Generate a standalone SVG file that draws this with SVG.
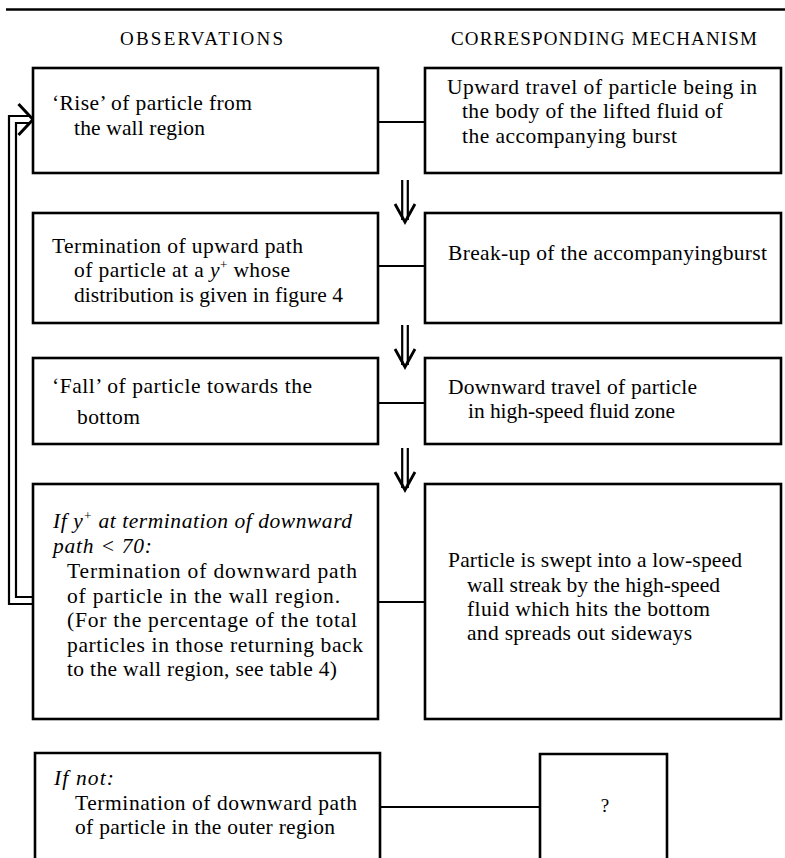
<svg xmlns="http://www.w3.org/2000/svg" width="785" height="858" viewBox="0 0 785 858">
<style>
.box{fill:#fff;stroke:#000;stroke-width:2.6}
.ln{fill:none;stroke:#000;stroke-width:2.2}
.dbl{fill:none;stroke:#000;stroke-width:2.2}
.t{font-family:"Liberation Serif","Times New Roman",serif;font-size:21.5px;fill:#000}
.i{font-style:italic}
.h{font-family:"Liberation Serif","Times New Roman",serif;font-size:19px;fill:#000}
.sup{font-size:13px}
</style>
<defs>
<g id="dn">
<path d="M-2.8,0 V40 M2.8,0 V40" class="dbl"/>
<path d="M-10,24 L0,42 L10,24" fill="none" stroke="#000" stroke-width="2.8" stroke-linejoin="miter"/>
</g>
</defs>
<rect width="785" height="858" fill="#fff"/>
<line x1="6" y1="9.5" x2="785" y2="9.5" stroke="#000" stroke-width="2.6"/>
<text class="h" x="120" y="45" textLength="163" lengthAdjust="spacing">OBSERVATIONS</text>
<text class="h" x="451" y="45" textLength="306" lengthAdjust="spacing">CORRESPONDING MECHANISM</text>

<g id="connectors">
<line class="ln" x1="378" y1="122" x2="425" y2="122"/>
<line class="ln" x1="378" y1="266" x2="425" y2="266"/>
<line class="ln" x1="378" y1="403" x2="425" y2="403"/>
<line class="ln" x1="378" y1="602" x2="425" y2="602"/>
<line class="ln" x1="380" y1="807" x2="540" y2="807"/>
<use href="#dn" x="405" y="180"/>
<use href="#dn" x="405" y="325"/>
<use href="#dn" x="405" y="448"/>
<path class="dbl" d="M33,604 H9 V116 H31"/>
<path class="dbl" d="M33,597 H16 V123 H29"/>
<path d="M18.5,104 L33,119.5 L18.5,135" fill="none" stroke="#000" stroke-width="3"/>
</g>

<g id="obs1">
<rect class="box" x="33" y="68" width="345" height="105"/>
<text class="t" x="52" y="110" textLength="200" lengthAdjust="spacing">‘Rise’ of particle from</text>
<text class="t" x="74" y="135" textLength="131" lengthAdjust="spacing">the wall region</text>
</g>
<g id="mech1">
<rect class="box" x="425" y="68" width="356" height="105"/>
<text class="t" x="447" y="94" textLength="310" lengthAdjust="spacing">Upward travel of particle being in</text>
<text class="t" x="462" y="118" textLength="261" lengthAdjust="spacing">the body of the lifted fluid of</text>
<text class="t" x="462" y="143" textLength="215" lengthAdjust="spacing">the accompanying burst</text>
</g>

<g id="obs2">
<rect class="box" x="33" y="213" width="345" height="110"/>
<text class="t" x="52" y="253" textLength="251" lengthAdjust="spacing">Termination of upward path</text>
<text class="t" x="74" y="277" textLength="216" lengthAdjust="spacing">of particle at a <tspan class="i">y</tspan><tspan class="sup" dy="-8">+</tspan><tspan dy="8"> whose</tspan></text>
<text class="t" x="74" y="302" textLength="269" lengthAdjust="spacing">distribution is given in figure 4</text>
</g>
<g id="mech2">
<rect class="box" x="425" y="213" width="356" height="110"/>
<text class="t" x="448" y="260" textLength="319" lengthAdjust="spacing">Break-up of the accompanyingburst</text>
</g>

<g id="obs3">
<rect class="box" x="33" y="358" width="345" height="86"/>
<text class="t" x="52" y="393" textLength="260" lengthAdjust="spacing">‘Fall’ of particle towards the</text>
<text class="t" x="77" y="424" textLength="63" lengthAdjust="spacing">bottom</text>
</g>
<g id="mech3">
<rect class="box" x="425" y="358" width="356" height="86"/>
<text class="t" x="448" y="394" textLength="249" lengthAdjust="spacing">Downward travel of particle</text>
<text class="t" x="468" y="418" textLength="207" lengthAdjust="spacing">in high-speed fluid zone</text>
</g>

<g id="obs4">
<rect class="box" x="33" y="484" width="345" height="235"/>
<text class="t i" x="53" y="528" textLength="299" lengthAdjust="spacing">If y<tspan class="sup" dy="-8">+</tspan><tspan dy="8"> at termination of downward</tspan></text>
<text class="t i" x="53" y="553" textLength="99" lengthAdjust="spacing">path &lt; 70:</text>
<text class="t" x="67" y="578" textLength="290" lengthAdjust="spacing">Termination of downward path</text>
<text class="t" x="67" y="603" textLength="273" lengthAdjust="spacing">of particle in the wall region.</text>
<text class="t" x="67" y="627" textLength="290" lengthAdjust="spacing">(For the percentage of the total</text>
<text class="t" x="67" y="652" textLength="296" lengthAdjust="spacing">particles in those returning back</text>
<text class="t" x="67" y="676" textLength="270" lengthAdjust="spacing">to the wall region, see table 4)</text>
</g>
<g id="mech4">
<rect class="box" x="425" y="484" width="356" height="235"/>
<text class="t" x="448" y="567" textLength="294" lengthAdjust="spacing">Particle is swept into a low-speed</text>
<text class="t" x="467" y="592" textLength="253" lengthAdjust="spacing">wall streak by the high-speed</text>
<text class="t" x="467" y="616" textLength="243" lengthAdjust="spacing">fluid which hits the bottom</text>
<text class="t" x="467" y="640" textLength="225" lengthAdjust="spacing">and spreads out sideways</text>
</g>

<g id="obs5">
<path class="box" d="M35,870 V753 H380 V870"/>
<text class="t i" x="54" y="785" textLength="60" lengthAdjust="spacing">If not:</text>
<text class="t" x="75" y="810" textLength="282" lengthAdjust="spacing">Termination of downward path</text>
<text class="t" x="75" y="834" textLength="260" lengthAdjust="spacing">of particle in the outer region</text>
</g>
<g id="mech5">
<path class="box" d="M540,870 V754 H667 V870"/>
<text x="605" y="812" text-anchor="middle" style="font-family:'Liberation Serif','Times New Roman',serif;font-size:19px">?</text>
</g>
</svg>
